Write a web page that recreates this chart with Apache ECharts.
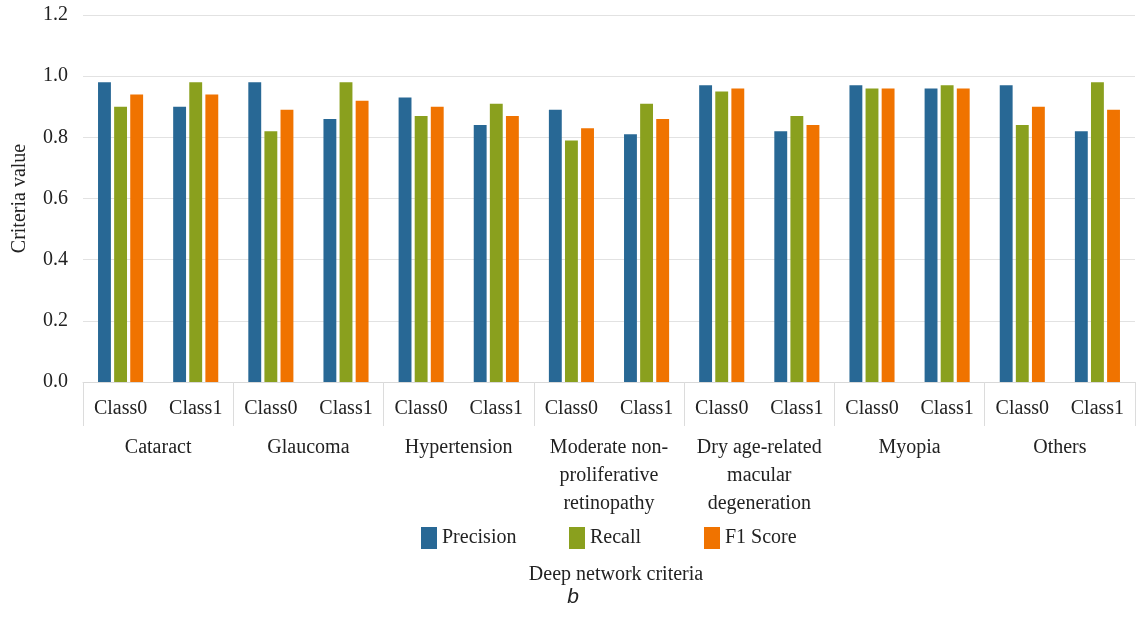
<!DOCTYPE html>
<html>
<head>
<meta charset="utf-8">
<script src="https://cdn.jsdelivr.net/npm/echarts@6/dist/echarts.min.js"></script>
<style>
  html, body { margin: 0; padding: 0; background: #fff; }
  #chart { width: 1136px; height: 633px; }
</style>
</head>
<body>
<div id="chart"></div>
<script>
// categories
const diseases = ['Cataract', 'Glaucoma', 'Hypertension', 'Moderate non-\nproliferative\nretinopathy',
  'Dry age-related\nmacular\ndegeneration', 'Myopia', 'Others'];
const classes = ['Class0', 'Class1'];
const seriesNames = ['Precision', 'Recall', 'F1 Score'];

// values, per disease: Class0, Class1
const precision = [0.98, 0.90, 0.98, 0.86, 0.93, 0.84, 0.89, 0.81, 0.97, 0.82, 0.97, 0.96, 0.97, 0.82];
const recall    = [0.90, 0.98, 0.82, 0.98, 0.87, 0.91, 0.79, 0.91, 0.95, 0.87, 0.96, 0.97, 0.84, 0.98];
const f1score   = [0.94, 0.94, 0.89, 0.92, 0.90, 0.87, 0.83, 0.86, 0.96, 0.84, 0.96, 0.96, 0.90, 0.89];

const colors = ['#286895', '#8aa01e', '#f07300'];
const font = 'Liberation Serif';

const classLabels = [];
diseases.forEach(() => classes.forEach(c => classLabels.push(c)));

const chartDom = document.getElementById('chart');
const myChart = echarts.init(chartDom);

// one legend per item so the spacing can follow the picture
const legendLeft = [416, 564, 699];
const legends = seriesNames.map((n, i) => ({
    left: legendLeft[i],
    top: 522,
    icon: 'rect',
    itemWidth: 16,
    itemHeight: 22,
    textStyle: { fontFamily: font, fontSize: 20, color: '#222' },
    data: [n]
}));

const option = {
    animation: false,
    color: colors,
    textStyle: { fontFamily: font },
    grid: { left: 83, right: 1, top: 15, bottom: 251, outerBoundsMode: 'none', containLabel: false },
    legend: legends,
    xAxis: [
        {
            type: 'category',
            data: classLabels,
            axisLine: { lineStyle: { color: '#d9d9d9', width: 1 } },
            axisTick: { show: false },
            axisLabel: { margin: 17, fontFamily: font, fontSize: 20, color: '#222', interval: 0 }
        },
        {
            type: 'category',
            position: 'bottom',
            data: diseases,
            axisLine: { show: false },
            axisTick: { show: true, length: 44, lineStyle: { color: '#dcdcdc' } },
            axisLabel: { margin: 52, fontFamily: font, fontSize: 20, color: '#222', interval: 0, lineHeight: 28 }
        }
    ],
    yAxis: {
        type: 'value',
        min: 0,
        max: 1.2,
        interval: 0.2,
        name: 'Criteria value',
        nameLocation: 'middle',
        nameGap: 53,
        nameTextStyle: { fontFamily: font, fontSize: 20, color: '#222' },
        axisLine: { show: false },
        axisTick: { show: false },
        axisLabel: { margin: 15, fontFamily: font, fontSize: 20, color: '#222',
            formatter: v => v.toFixed(1) },
        splitLine: { lineStyle: { color: '#e2e2e2' } }
    },
    series: [
        { name: seriesNames[0], type: 'bar', data: precision, barCategoryGap: '40%', barGap: '25%' },
        { name: seriesNames[1], type: 'bar', data: recall },
        { name: seriesNames[2], type: 'bar', data: f1score }
    ],
    graphic: [
        {
            type: 'text',
            x: 616, y: 575,
            style: { text: 'Deep network criteria', font: '20px "Liberation Serif"', fill: '#222',
                textAlign: 'center', textVerticalAlign: 'middle' }
        },
        {
            type: 'text',
            x: 573, y: 597,
            style: { text: 'b', font: 'italic 21px "Liberation Sans"', fill: '#222',
                textAlign: 'center', textVerticalAlign: 'middle' }
        }
    ]
};
option && myChart.setOption(option);
</script>
</body>
</html>
